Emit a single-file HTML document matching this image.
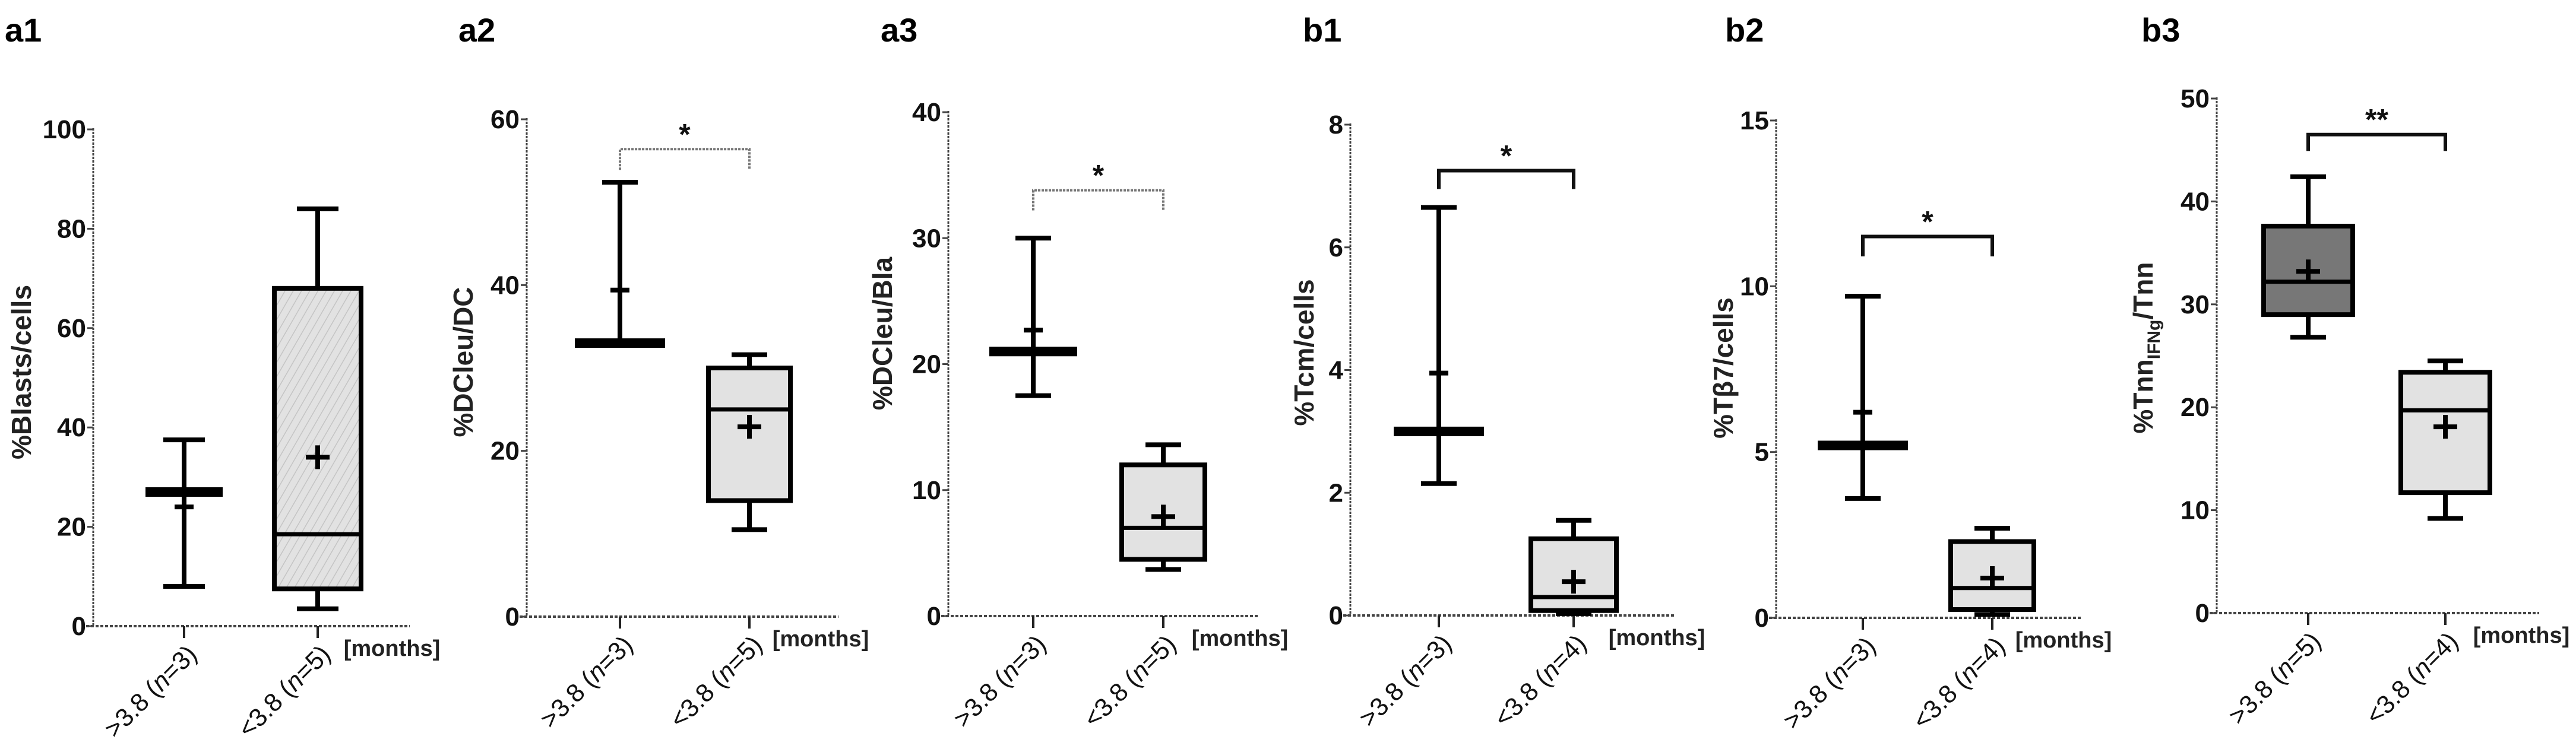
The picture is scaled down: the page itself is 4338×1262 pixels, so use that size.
<!DOCTYPE html>
<html><head><meta charset="utf-8"><style>
html,body{margin:0;padding:0;background:#fff;}
svg{display:block;font-family:"Liberation Sans",sans-serif;}
</style></head><body>
<svg id="fig" width="4338" height="1262" viewBox="0 0 4338 1262" xmlns="http://www.w3.org/2000/svg">
<defs>
<pattern id="hatch" patternUnits="userSpaceOnUse" width="12" height="12" patternTransform="rotate(30)">
<rect width="12" height="12" fill="#e2e2e2"/><line x1="0" y1="0" x2="0" y2="12" stroke="#c4c4c4" stroke-width="3"/>
</pattern>
</defs>
</svg>
<script>
// ---- data ----
const groupLabels = [">3.8", "<3.8"];
const a1N = [3, 5];
const a1Min = [8, 3.5];
const a1Q1 = [27, 7.5];
const a1Med = [27, 18.5];
const a1Q3 = [27, 68];
const a1Max = [37.5, 84];
const a1Mean = [24, 34];
const a1Ticks = [0, 20, 40, 60, 80, 100];

const a2N = [3, 5];
const a2Min = [33, 10.5];
const a2Q1 = [33, 14];
const a2Med = [33, 25];
const a2Q3 = [33, 30];
const a2Max = [52.4, 31.6];
const a2Mean = [39.4, 22.9];
const a2Ticks = [0, 20, 40, 60];
const a2Bracket = [56.4, 53.9];

const a3N = [3, 5];
const a3Min = [17.5, 3.7];
const a3Q1 = [21, 4.5];
const a3Med = [21, 7.0];
const a3Q3 = [21, 12];
const a3Max = [30, 13.6];
const a3Mean = [22.7, 7.9];
const a3Ticks = [0, 10, 20, 30, 40];
const a3Bracket = [33.8, 32.2];

const b1N = [3, 4];
const b1Min = [2.15, 0.03];
const b1Q1 = [3.0, 0.08];
const b1Med = [3.0, 0.3];
const b1Q3 = [3.0, 1.25];
const b1Max = [6.65, 1.55];
const b1Mean = [3.95, 0.55];
const b1Ticks = [0, 2, 4, 6, 8];
const b1Bracket = [7.25, 6.95];

const b2N = [3, 4];
const b2Min = [3.6, 0.1];
const b2Q1 = [5.2, 0.25];
const b2Med = [5.2, 0.9];
const b2Q3 = [5.2, 2.3];
const b2Max = [9.7, 2.7];
const b2Mean = [6.2, 1.2];
const b2Ticks = [0, 5, 10, 15];
const b2Bracket = [11.5, 10.9];

const b3N = [5, 4];
const b3Min = [26.8, 9.2];
const b3Q1 = [29, 11.7];
const b3Med = [32.2, 19.7];
const b3Q3 = [37.6, 23.4];
const b3Max = [42.4, 24.5];
const b3Mean = [33.2, 18.1];
const b3Ticks = [0, 10, 20, 30, 40, 50];
const b3Bracket = [46.5, 44.9];

const svg = document.getElementById('fig');
const NS = 'http://www.w3.org/2000/svg';
function mk(tag, attrs, parent) {
  const e = document.createElementNS(NS, tag);
  for (const k in attrs) e.setAttribute(k, attrs[k]);
  (parent || svg).appendChild(e);
  return e;
}

function drawPanel(p, d) {
  const g = mk('g', {});
  
  
  const ymax = d.ticks[d.ticks.length - 1];
  const Y = v => p.y0 - (v / ymax) * (p.y0 - p.yTop);
  const X = i => p.cats[i];

  const pl = mk('text', {x: p.labelX, y: 70, 'font-size': 56, 'font-weight': 'bold', fill: '#000'}, g);
  pl.textContent = p.id;
  
  

  const ya = mk('line', {x1: p.ax, y1: Y(ymax) - 2, x2: p.ax, y2: p.y0, stroke: '#444', 'stroke-width': 3, 'stroke-dasharray': '4 2'}, g);
  
  
  const xa = mk('line', {x1: p.ax - 12, y1: p.y0, x2: p.xEnd, y2: p.y0, stroke: '#444', 'stroke-width': 4, 'stroke-dasharray': '5 3'}, g);
  
  

  d.ticks.forEach(t => {
    const ty = Y(t);
    const tk = mk('line', {x1: p.ax - 10, y1: ty, x2: p.ax, y2: ty, stroke: '#444', 'stroke-width': 3}, g);
    
    
    const tl = mk('text', {x: p.ax - 12, y: ty + 15, 'font-size': 44, 'font-weight': 'bold', 'text-anchor': 'end', fill: '#111'}, g);
    tl.textContent = t;
    
    
  });

  const tt = mk('text', {x: p.titleX, y: p.titleY, 'font-size': 46, 'font-weight': 'bold', 'text-anchor': 'middle', fill: '#222', transform: 'rotate(-90 ' + p.titleX + ' ' + p.titleY + ')'}, g);
  if (p.titleSub) {
    const s1 = mk('tspan', {}, tt); s1.textContent = p.title;
    const s2 = mk('tspan', {dy: 12, 'font-size': 30}, tt); s2.textContent = p.titleSub;
    const s3 = mk('tspan', {dy: -12}, tt); s3.textContent = p.titleEnd;
  } else tt.textContent = p.title;
  
  

  for (let i = 0; i < 2; i++) {
    const cx = X(i);
    const xt = mk('line', {x1: cx, y1: p.y0, x2: cx, y2: p.y0 + 20, stroke: '#222', 'stroke-width': 4}, g);
    
    
    const lx = cx + 24, ly = p.y0 + 50;
    const cl = mk('text', {x: lx, y: ly, 'font-size': 43, 'text-anchor': 'end', fill: '#111', transform: 'rotate(-45 ' + lx + ' ' + ly + ')'}, g);
    const c1 = mk('tspan', {}, cl); c1.textContent = groupLabels[i] + ' (';
    const c2 = mk('tspan', {'font-style': 'italic'}, cl); c2.textContent = 'n';
    const c3 = mk('tspan', {}, cl); c3.textContent = '=' + d.n[i] + ')';
    
    

    const flat = (d.q3[i] - d.q1[i] < 0.01 * ymax);
    const bw = flat ? p.flatHalf : p.boxHalf;
    const wl = mk('line', {x1: cx, y1: Y(d.max[i]), x2: cx, y2: Y(d.min[i]), stroke: '#000', 'stroke-width': 8}, g);
    
    
    [d.max[i], d.min[i]].forEach(v => {
      const cap = mk('line', {x1: cx - p.cap, y1: Y(v), x2: cx + p.cap, y2: Y(v), stroke: '#000', 'stroke-width': 8}, g);
      
      
    });
    const top = Y(d.q3[i]), bot = Y(d.q1[i]);
    const h = Math.max(bot - top, 8);
    const fill = (p.fills && p.fills[i]) || '#e2e2e2';
    const bx = mk('rect', {x: cx - bw, y: top - (h - (bot - top)) / 2, width: 2 * bw, height: h, fill: fill, stroke: '#000', 'stroke-width': 8}, g);
    
    
    const md = mk('line', {x1: cx - bw, y1: Y(d.med[i]), x2: cx + bw, y2: Y(d.med[i]), stroke: '#000', 'stroke-width': 7}, g);
    
    
    const my = Y(d.mean[i]);
    const ms = flat ? 16 : 20;
    const mn = mk('path', {d: 'M' + (cx - ms) + ' ' + my + 'H' + (cx + ms) + 'M' + cx + ' ' + (my - ms) + 'V' + (my + ms), stroke: '#000', 'stroke-width': 8, fill: 'none'}, g);
    
    
  }

  const ml = mk('text', {x: p.xEnd - 30, y: p.y0 + 50, 'font-size': 38, 'font-weight': 'bold', 'text-anchor': 'middle', fill: '#222'}, g);
  ml.textContent = '[months]';
  
  

  if (d.bracket) {
    const by = Y(d.bracket[0]), ly2 = Y(d.bracket[1]);
    const br = mk('path', {d: 'M' + X(0) + ' ' + ly2 + 'V' + by + 'H' + X(1) + 'V' + ly2, fill: 'none', stroke: p.solid ? '#111' : '#777', 'stroke-width': p.solid ? 6 : 4, 'stroke-dasharray': p.solid ? 'none' : '4 2'}, g);
    
    
    const st = mk('text', {x: (X(0) + X(1)) / 2, y: by - 8, 'font-size': 50, 'font-weight': 'bold', 'text-anchor': 'middle', fill: '#111'}, g);
    st.textContent = p.stars;
    
    
  }
}

drawPanel({id: 'a1', ax: 157, y0: 1055, yTop: 218, xEnd: 690, cats: [310, 535], boxHalf: 73, flatHalf: 61, cap: 35,
  titleX: 52, titleY: 627, title: '%Blasts/cells', labelX: 8, fills: [null, 'url(#hatch)']},
  {n: a1N, min: a1Min, q1: a1Q1, med: a1Med, q3: a1Q3, max: a1Max, mean: a1Mean, ticks: a1Ticks});
drawPanel({id: 'a2', ax: 887, y0: 1039, yTop: 201, xEnd: 1412, cats: [1044, 1262], boxHalf: 69, flatHalf: 72, cap: 30,
  titleX: 796, titleY: 610, title: '%DCleu/DC', labelX: 772, stars: '*', solid: false},
  {n: a2N, min: a2Min, q1: a2Q1, med: a2Med, q3: a2Q3, max: a2Max, mean: a2Mean, ticks: a2Ticks, bracket: a2Bracket});
drawPanel({id: 'a3', ax: 1597, y0: 1038, yTop: 189, xEnd: 2118, cats: [1740, 1959], boxHalf: 70, flatHalf: 70, cap: 30,
  titleX: 1502, titleY: 562, title: '%DCleu/Bla', labelX: 1483, stars: '*', solid: false},
  {n: a3N, min: a3Min, q1: a3Q1, med: a3Med, q3: a3Q3, max: a3Max, mean: a3Mean, ticks: a3Ticks, bracket: a3Bracket});
drawPanel({id: 'b1', ax: 2274, y0: 1037, yTop: 210, xEnd: 2820, cats: [2423, 2650], boxHalf: 72, flatHalf: 72, cap: 30,
  titleX: 2212, titleY: 594, title: '%Tcm/cells', labelX: 2194, stars: '*', solid: true},
  {n: b1N, min: b1Min, q1: b1Q1, med: b1Med, q3: b1Q3, max: b1Max, mean: b1Mean, ticks: b1Ticks, bracket: b1Bracket});
drawPanel({id: 'b2', ax: 2991, y0: 1041, yTop: 203, xEnd: 3505, cats: [3137, 3355], boxHalf: 70, flatHalf: 72, cap: 30,
  titleX: 2918, titleY: 620, title: '%Tβ7/cells', labelX: 2905, stars: '*', solid: true},
  {n: b2N, min: b2Min, q1: b2Q1, med: b2Med, q3: b2Q3, max: b2Max, mean: b2Mean, ticks: b2Ticks, bracket: b2Bracket});
drawPanel({id: 'b3', ax: 3733, y0: 1033, yTop: 166, xEnd: 4276, cats: [3887, 4118], boxHalf: 75, flatHalf: 72, cap: 30,
  titleX: 3625, titleY: 586, title: '%Tnn', titleSub: 'IFNg', titleEnd: '/Tnn', labelX: 3606, stars: '**', solid: true,
  fills: ['#777777', '#e2e2e2']},
  {n: b3N, min: b3Min, q1: b3Q1, med: b3Med, q3: b3Q3, max: b3Max, mean: b3Mean, ticks: b3Ticks, bracket: b3Bracket});
</script>
</body></html>
